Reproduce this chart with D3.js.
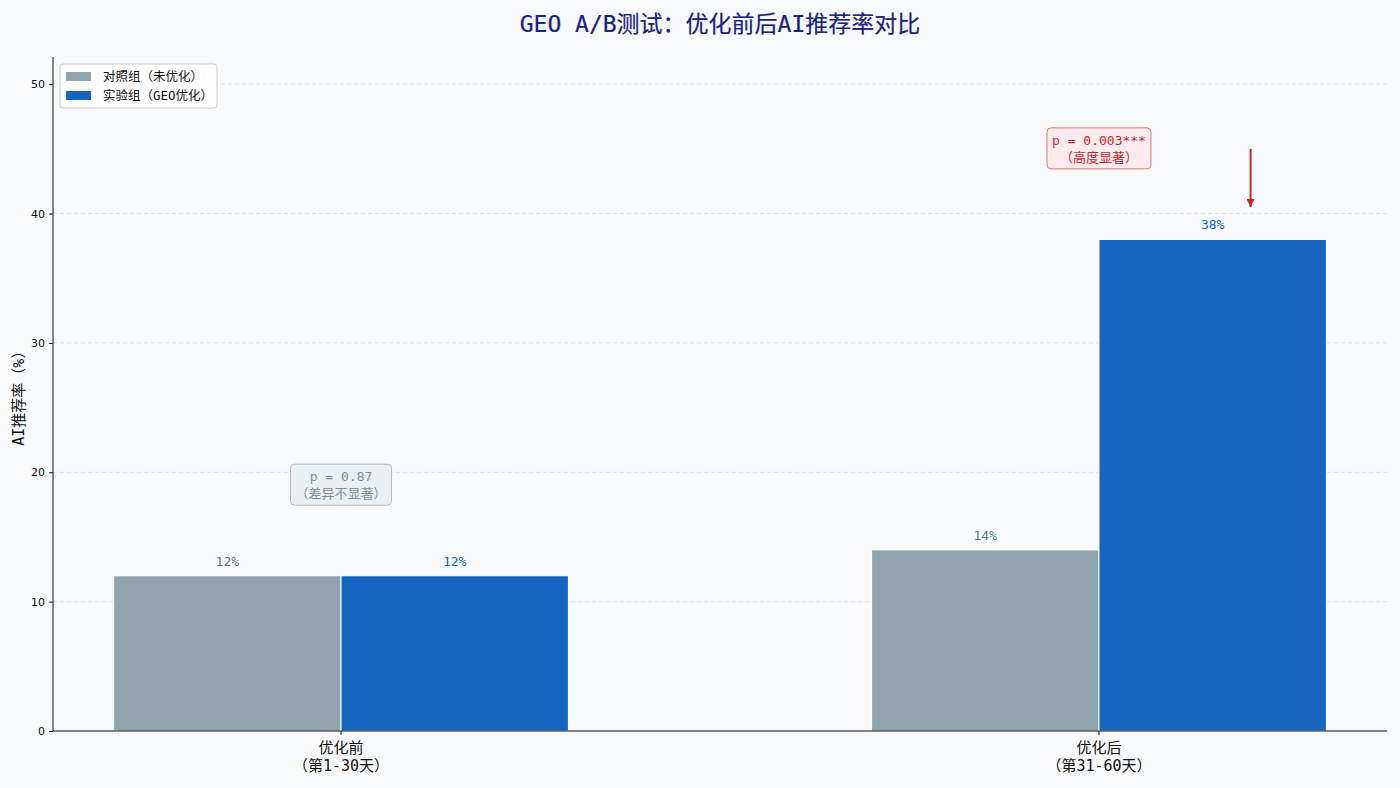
<!DOCTYPE html>
<html>
<head>
<meta charset="utf-8">
<script src="https://cdn.jsdelivr.net/npm/d3@7"></script>
<style>
  body { margin: 0; background: #f8f9fa; }
  #chart { width: 1400px; height: 788px; }
  .axis text { font-family: "DejaVu Sans", sans-serif; font-size: 11px; fill: #111; }
  .axis path, .axis line { stroke: #111; }
</style>
</head>
<body>
<div id="chart"></div>
<script>
// data
const periods = ["优化前", "优化后"];
const periodSub = ["（第1-30天）", "（第31-60天）"];
const groups = ["对照组（未优化）", "实验组（GEO优化）"];
const controlValues = [12, 14];
const testValues = [12, 38];
const yTicks = [0, 10, 20, 30, 40, 50];
const pNotes = [
    {period: 0, y: 19, lines: ["p = 0.87", "（差异不显著）"], kind: "ns"},
    {period: 1, y: 45, lines: ["p = 0.003***", "（高度显著）"], kind: "sig"}
];
const arrowFrom = {x: 1.2, y: 45};
const arrowTo = {x: 1.2, y: 40.5};

const mono = '"DejaVu Sans Mono", "Noto Sans CJK SC", monospace';
const colors = ["#90a4ae", "#1565c0"];
const labelColors = ["#607d8b", "#1565c0"];

class BarChart {
    constructor(parentElement) {
        this.parentElement = parentElement;
        this.initVis();
    }

    initVis() {
        let vis = this;
        vis.margin = {top: 57, right: 13, bottom: 57, left: 53};
        vis.width = 1400 - vis.margin.left - vis.margin.right;
        vis.height = 788 - vis.margin.top - vis.margin.bottom;

        vis.root = d3.select("#" + vis.parentElement).append("svg")
            .attr("width", 1400)
            .attr("height", 788)
            .style("background", "#f8f9fa");

        vis.svg = vis.root.append("g")
            .attr("transform", "translate(" + vis.margin.left + "," + vis.margin.top + ")");

        // bars run from -0.3 to 1.3, plus a small margin each side
        vis.x = d3.scaleLinear().domain([-0.38, 1.38]).range([0, vis.width]);
        vis.y = d3.scaleLinear().domain([0, 52.1]).range([vis.height, 0]);
        vis.barW = 0.3;

        vis.updateVis();
    }

    updateVis() {
        let vis = this;

        // title
        vis.root.append("text")
            .attr("x", 720).attr("y", 32)
            .attr("text-anchor", "middle")
            .style("font-family", mono)
            .style("font-size", "23px")
            .style("fill", "#1a237e")
            .style("stroke", "#1a237e")
            .style("stroke-width", 0.2)
            .text("GEO A/B测试：优化前后AI推荐率对比");

        // grid
        vis.svg.selectAll(".grid").data(yTicks.filter(d => d > 0)).enter()
            .append("line")
            .attr("x1", 0).attr("x2", vis.width)
            .attr("y1", d => vis.y(d)).attr("y2", d => vis.y(d))
            .attr("stroke", "#d5d9dd")
            .attr("stroke-width", 0.8)
            .attr("stroke-dasharray", "4,3");

        // bars
        let series = [controlValues, testValues];
        series.forEach((vals, s) => {
            let off = s === 0 ? -vis.barW : 0;
            vis.svg.selectAll(".bar" + s).data(vals).enter()
                .append("rect")
                .attr("x", (d, i) => vis.x(i + off))
                .attr("width", vis.x(vis.barW) - vis.x(0))
                .attr("y", d => vis.y(d))
                .attr("height", d => vis.y(0) - vis.y(d))
                .attr("fill", colors[s])
                .attr("stroke", "white")
                .attr("stroke-width", 1);

            vis.svg.selectAll(".lab" + s).data(vals).enter()
                .append("text")
                .attr("x", (d, i) => vis.x(i + off + vis.barW / 2))
                .attr("y", d => vis.y(d) - 10)
                .attr("text-anchor", "middle")
                .style("font-family", mono)
                .style("font-size", "13px")
                .style("fill", labelColors[s])
                .text(d => d + "%");
        });

        // axes
        let yAxis = d3.axisLeft(vis.y).tickValues(yTicks).tickSize(4).tickPadding(4);
        vis.svg.append("g").attr("class", "axis").call(yAxis)
            .call(g => g.select(".domain").attr("d", "M0," + vis.height + "V0"));

        let xg = vis.svg.append("g").attr("class", "axis")
            .attr("transform", "translate(0," + vis.height + ")");
        xg.append("line").attr("x1", 0).attr("x2", vis.width).attr("stroke", "#111");
        periods.forEach((p, i) => {
            xg.append("line").attr("x1", vis.x(i)).attr("x2", vis.x(i))
                .attr("y1", 0).attr("y2", 4).attr("stroke", "#111");
            let t = xg.append("text")
                .attr("x", vis.x(i)).attr("y", 22)
                .attr("text-anchor", "middle")
                .style("font-family", mono)
                .style("font-size", "15px")
                .style("fill", "#111");
            t.append("tspan").attr("x", vis.x(i)).attr("dy", 0).text(p);
            t.append("tspan").attr("x", vis.x(i)).attr("dy", 18).text(periodSub[i]);
        });

        // y label
        vis.root.append("text")
            .attr("transform", "translate(24," + (vis.margin.top + vis.y(26)) + ") rotate(-90)")
            .attr("text-anchor", "middle")
            .style("font-family", mono)
            .style("font-size", "15px")
            .style("fill", "#111")
            .text("AI推荐率（%）");

        // p-value boxes
        pNotes.forEach(n => {
            let g = vis.svg.append("g")
                .attr("transform", "translate(" + vis.x(n.period) + "," + vis.y(n.y) + ")");
            let sig = n.kind === "sig";
            let rect = g.append("rect")
                .attr("rx", 4)
                .attr("fill", sig ? "#ffebee" : "#eceff1")
                .attr("stroke", sig ? "#e57373" : "#b0bec5")
                .attr("stroke-width", 1);
            let txt = g.append("text")
                .attr("text-anchor", "middle")
                .style("font-family", mono)
                .style("font-size", "13px")
                .style("fill", sig ? "#c62828" : "#78909c");
            n.lines.forEach((l, k) => {
                txt.append("tspan").attr("x", 0).attr("y", k === 0 ? -4 : 13).text(l);
            });
            let bb = txt.node().getBBox();
            rect.attr("x", bb.x - 5).attr("y", bb.y - 5)
                .attr("width", bb.width + 10).attr("height", bb.height + 9);
        });

        // arrow
        vis.root.append("defs").append("marker")
            .attr("id", "ah").attr("viewBox", "0 0 10 10")
            .attr("refX", 10).attr("refY", 5)
            .attr("markerWidth", 4).attr("markerHeight", 4)
            .attr("orient", "auto")
            .append("path").attr("d", "M0,0L10,5L0,10z").attr("fill", "#c62828");
        vis.svg.append("line")
            .attr("x1", vis.x(arrowFrom.x)).attr("y1", vis.y(arrowFrom.y))
            .attr("x2", vis.x(arrowTo.x)).attr("y2", vis.y(arrowTo.y))
            .attr("stroke", "#c62828").attr("stroke-width", 2)
            .attr("marker-end", "url(#ah)");

        // legend
        let lg = vis.root.append("g").attr("transform", "translate(60,64)");
        lg.append("rect").attr("width", 157).attr("height", 44).attr("rx", 3)
            .attr("fill", "white").attr("fill-opacity", 0.85)
            .attr("stroke", "#ccc");
        groups.forEach((gname, i) => {
            lg.append("rect").attr("x", 6).attr("y", 8 + i * 19)
                .attr("width", 25).attr("height", 9).attr("fill", colors[i]);
            lg.append("text").attr("x", 43).attr("y", 17 + i * 19)
                .style("font-family", mono)
                .style("font-size", "12.5px")
                .style("fill", "#111")
                .text(gname);
        });
    }
}

new BarChart("chart");
</script>
</body>
</html>
